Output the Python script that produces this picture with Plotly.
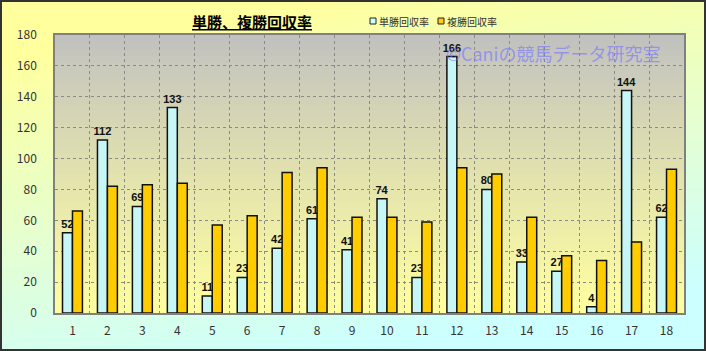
import plotly.graph_objects as go

# ---- data ----
races = list(range(1, 19))
race_labels = [str(r) for r in races]
tansho = [52, 112, 69, 133, 11, 23, 42, 61, 41, 74, 23, 166, 80, 33, 27, 4, 144, 62]
fukusho = [66, 82, 83, 84, 57, 63, 91, 94, 62, 62, 59, 94, 90, 62, 37, 34, 46, 93]
series_names = ["単勝回収率", "複勝回収率"]
title_text = "単勝、複勝回収率"
watermark = "©Caniの競馬データ研究室"

W, H = 706, 351
L, R, T, B = 55, 22, 35, 38
PW, PH = W - L - R, H - T - B


def px(x):
    return (x - L) / PW


def py(y):
    return (H - B - y) / PH


def mix(c1, c2, f):
    f = max(0.0, min(1.0, f))
    return "rgb(%d,%d,%d)" % tuple(round(a + (b - a) * f) for a, b in zip(c1, c2))


shapes = []
# paper diagonal gradient (yellow -> cyan)
yel = (255, 255, 158)
cya = (204, 255, 255)
k = 0.18
tmax = H + k * W
n = 48
for i in range(n):
    t0 = -6 + (tmax + 12) * i / n
    t1 = -6 + (tmax + 12) * (i + 1) / n + 1.0
    f = ((t0 + t1) / 2 - 60) / (tmax - 120)
    xa, xb = -10, W + 10
    pts = [(xa, t0 - k * xa), (xb, t0 - k * xb), (xb, t1 - k * xb), (xa, t1 - k * xa)]
    path = "M " + " L ".join("%.5f %.5f" % (px(x), py(y)) for x, y in pts) + " Z"
    shapes.append(dict(type="path", xref="paper", yref="paper", path=path,
                       fillcolor=mix(yel, cya, f), line=dict(width=0), layer="below"))

# plot area vertical gradient (gray -> yellow)
gray = (192, 192, 192)
pyel = (255, 255, 160)
m = 40
for i in range(m):
    y0 = i / m
    y1 = (i + 1) / m + 0.004
    f = 1 - (i + 0.5) / m
    shapes.append(dict(type="rect", xref="paper", yref="paper", x0=0, x1=1, y0=y0, y1=min(y1, 1),
                       fillcolor=mix(gray, pyel, f ** 0.9), line=dict(width=0), layer="below"))

# outer border
shapes.append(dict(type="rect", xref="paper", yref="paper", x0=px(1), x1=px(W - 1), y0=py(1), y1=py(H - 1),
                   line=dict(color="#333333", width=2), fillcolor="rgba(0,0,0,0)", layer="above"))

# manual legend squares
leg_cols = ["#CCFFFF", "#FFCC00"]
leg_x = [370, 438]
for xx, c in zip(leg_x, leg_cols):
    shapes.append(dict(type="rect", xref="paper", yref="paper", x0=px(xx), x1=px(xx + 6), y0=py(18), y1=py(24),
                       fillcolor=c, line=dict(color="#222222", width=1), layer="above"))

fig = go.Figure()
fig.add_trace(go.Bar(x=races, y=tansho, name=series_names[0],
                     marker=dict(color="#C6F6F6", line=dict(color="#111111", width=1.5)),
                     text=[str(v) for v in tansho], textposition="outside", constraintext="none",
                     textfont=dict(family="Liberation Sans", size=11, color="#111111", weight="bold"),
                     cliponaxis=False))
fig.add_trace(go.Bar(x=races, y=fukusho, name=series_names[1],
                     marker=dict(color="#FFCC00", line=dict(color="#111111", width=1.5))))

annotations = [
    dict(text="<u>" + title_text + "</u>", xref="paper", yref="paper", x=px(252), y=py(21),
         xanchor="center", yanchor="middle", showarrow=False,
         font=dict(family="Noto Sans CJK JP", size=15, color="#000000", weight="bold")),
    dict(text=watermark, xref="paper", yref="paper", x=px(553), y=py(53),
         xanchor="center", yanchor="middle", showarrow=False,
         font=dict(family="Noto Sans CJK JP", size=18, color="rgba(120,120,255,0.65)")),
]
for xx, nm in zip(leg_x, series_names):
    annotations.append(dict(text=nm, xref="paper", yref="paper", x=px(xx + 7), y=py(21),
                            xanchor="left", yanchor="middle", showarrow=False,
                            font=dict(family="Noto Sans CJK JP", size=10, color="#333333")))

fig.update_layout(
    width=W, height=H,
    margin=dict(l=L, r=R, t=T, b=B),
    paper_bgcolor="#FFFFA0",
    plot_bgcolor="rgba(0,0,0,0)",
    barmode="group", bargap=0.43, bargroupgap=0,
    showlegend=False,
    shapes=shapes,
    annotations=annotations,
    font=dict(family="Noto Sans CJK JP", size=12, color="#333333"),
)
fig.update_xaxes(range=[0.5, 18.5], tickmode="array", tickvals=races, ticktext=race_labels,
                 showgrid=False, zeroline=False, showline=True, mirror=True, linecolor="#808080", linewidth=1.5,
                 ticks="", ticklabelstandoff=6,
                 minor=dict(tickmode="array", tickvals=[r + 0.5 for r in races[:-1]], showgrid=True,
                            gridcolor="#8A8A8A", griddash="dot", gridwidth=1, ticks=""),
                 tickfont=dict(size=12, color="#333333"))
fig.update_yaxes(range=[0, 180], tickmode="linear", tick0=0, dtick=20,
                 showgrid=True, gridcolor="#8A8A8A", griddash="dot", gridwidth=1,
                 zeroline=False, showline=True, mirror=True, linecolor="#808080", linewidth=1.5,
                 ticks="", ticklabelstandoff=14,
                 tickfont=dict(size=12, color="#333333"))

fig.write_html("out.html")
